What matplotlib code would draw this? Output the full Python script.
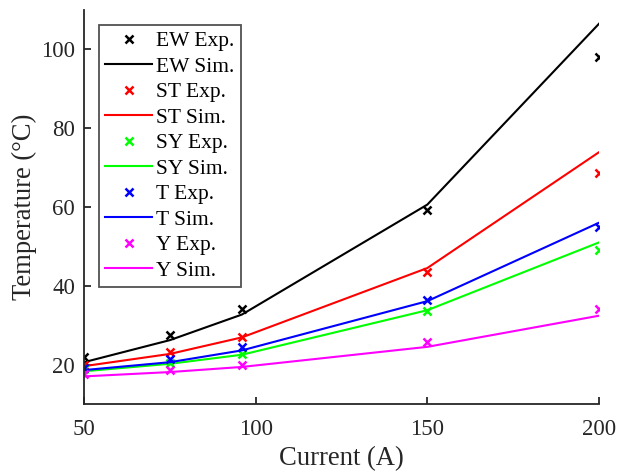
import matplotlib
matplotlib.use("Agg")
import matplotlib.pyplot as plt

plt.rcParams['font.family'] = ['Liberation Serif', 'DejaVu Serif']

current = [50, 75, 96, 150, 200]
ew_exp = [21.8, 27.4, 34.0, 59.2, 98.0]
ew_sim = [20.6, 26.2, 32.7, 60.6, 106.5]
st_exp = [19.8, 23.1, 27.0, 43.4, 68.7]
st_sim = [19.6, 22.7, 26.9, 44.5, 73.9]
sy_exp = [18.8, 20.4, 22.8, 33.5, 49.2]
sy_sim = [18.3, 20.2, 22.5, 33.8, 51.0]
t_exp = [19.2, 21.3, 24.4, 36.5, 54.8]
t_sim = [18.6, 20.6, 23.6, 36.1, 56.0]
y_exp = [17.5, 18.6, 20.0, 25.7, 34.0]
y_sim = [17.0, 18.1, 19.4, 24.5, 32.4]

series = [
    ("EW", ew_exp, ew_sim, "black"),
    ("ST", st_exp, st_sim, "#ff0000"),
    ("SY", sy_exp, sy_sim, "#00ff00"),
    ("T", t_exp, t_sim, "#0000ff"),
    ("Y", y_exp, y_sim, "#ff00ff"),
]

fig = plt.figure(figsize=(6.18, 4.71), dpi=100)
ax = fig.add_axes([0.1359, 0.1423, 0.8333, 0.8365])

for name, e, s, c in series:
    ax.plot(current, e, linestyle='none', marker='x', color=c, markersize=5.5,
            markeredgewidth=1.8, label=f"{name} Exp.")
    ax.plot(current, s, color=c, linewidth=1.5, label=f"{name} Sim.")

ax.set_xlim(50, 200)
ax.set_ylim(10, 110)
ax.set_xticks([50, 100, 150, 200])
ax.set_yticks([20, 40, 60, 80, 100])
ax.spines['top'].set_visible(False)
ax.spines['right'].set_visible(False)
for sp in ['left', 'bottom']:
    ax.spines[sp].set_color('#262626')
    ax.spines[sp].set_linewidth(1.3)
ax.tick_params(direction='in', length=5, width=1.3, colors='#262626',
               labelsize=16.5, labelcolor='#262626')
ax.tick_params(axis='x', pad=11)
ax.tick_params(axis='y', pad=6.5)
ax.set_xlabel("Current (A)", fontsize=19.2, color='#262626', labelpad=4)
ax.set_ylabel("Temperature (°C)", fontsize=19.2, color='#262626', labelpad=3)

leg = ax.legend(loc='upper left', bbox_to_anchor=(0.029, 0.962), fontsize=15.5,
                frameon=True, fancybox=False, edgecolor='#262626',
                labelspacing=0.25, handlelength=2.15, handletextpad=0.2,
                borderpad=0.3, borderaxespad=0.0)
leg.get_frame().set_linewidth(1.3)

fig.savefig("out.png", dpi=100)
